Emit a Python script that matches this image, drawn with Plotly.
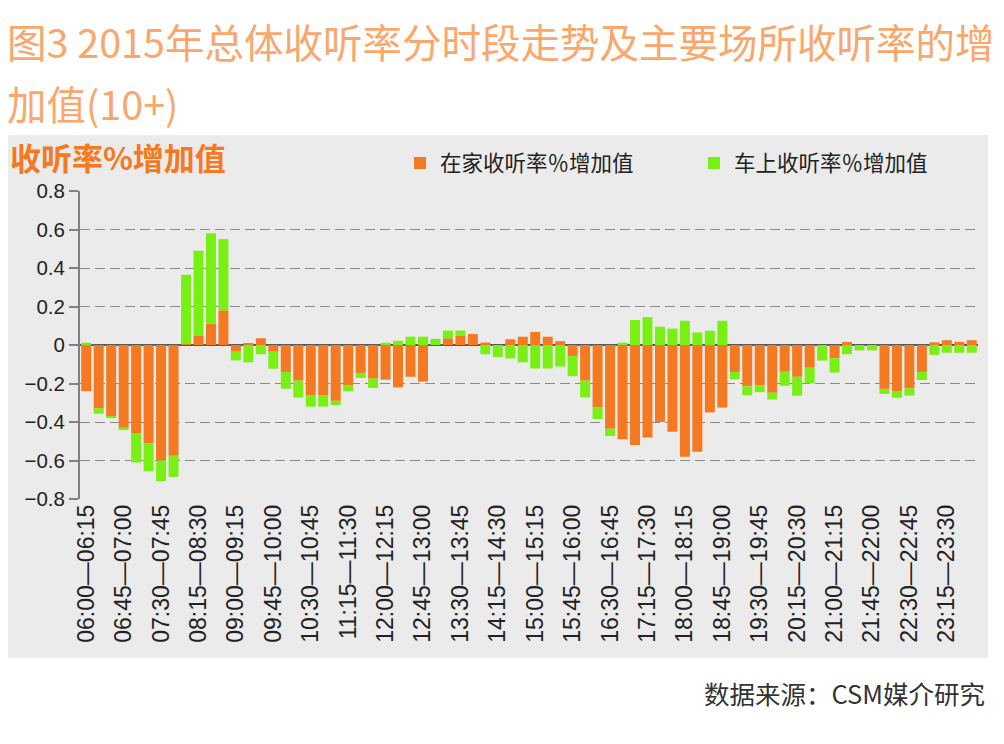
import plotly.graph_objects as go

# 时段: 06:00-24:00, 每15分钟一段
slot_starts = [f"{h:02d}:{m:02d}" for h in range(6, 24) for m in (0, 15, 30, 45)]
slot_ends = slot_starts[1:] + ["24:00"]
slots = [f"{a}—{b}" for a, b in zip(slot_starts, slot_ends)]
tick_slots = slots[::3]

home = [
    -0.24, -0.33, -0.37, -0.43, -0.46, -0.51, -0.60, -0.575, 0.005, 0.05, 0.11, 0.18,
    -0.035, 0.01, 0.035, -0.035, -0.14, -0.185, -0.26, -0.26, -0.29, -0.21, -0.145, -0.175,
    -0.18, -0.22, -0.165, -0.19, 0.0, 0.035, 0.047, 0.057, 0.013, 0.0, 0.03, 0.043,
    0.068, 0.043, 0.02, -0.057, -0.185, -0.325, -0.435, -0.49, -0.52, -0.48, -0.40, -0.45,
    -0.58, -0.555, -0.35, -0.325, -0.14, -0.215, -0.21, -0.248, -0.139, -0.165, -0.118, 0.0,
    -0.069, 0.016, 0.0, 0.0, -0.228, -0.239, -0.225, -0.14, 0.014, 0.025, 0.016, 0.025,
]
car = [
    0.012, -0.027, -0.01, -0.012, -0.15, -0.145, -0.107, -0.11, 0.36, 0.44, 0.47, 0.37,
    -0.045, -0.09, -0.048, -0.088, -0.087, -0.088, -0.06, -0.06, -0.022, -0.03, -0.026, -0.048,
    0.012, 0.022, 0.043, 0.043, 0.032, 0.04, 0.028, 0.0, -0.048, -0.062, -0.07, -0.09,
    -0.122, -0.122, -0.112, -0.105, -0.087, -0.06, -0.038, 0.012, 0.13, 0.145, 0.095, 0.085,
    0.126, 0.065, 0.074, 0.126, -0.038, -0.046, -0.035, -0.035, -0.073, -0.099, -0.081, -0.081,
    -0.074, -0.048, -0.028, -0.028, -0.026, -0.035, -0.038, -0.042, -0.051, -0.04, -0.04, -0.04,
]
y_ticks = [0.8, 0.6, 0.4, 0.2, 0, -0.2, -0.4, -0.6, -0.8]
y_labels = ["0.8", "0.6", "0.4", "0.2", "0", "−0.2", "−0.4", "−0.6", "−0.8"]

# 页面 body 默认有 8px 边距, 图按窗口减去边距来定尺寸
OFF = 8
W, H = 1004 - 2 * OFF, 744 - 2 * OFF
# 绘图区在窗口中的像素位置
L, R, T, B = 80 - OFF, 978 - OFF, 191 - OFF, 499 - OFF


def px(x):
    return (x - OFF - L) / (R - L)


def py(y):
    return (B - (y - OFF)) / (B - T)


ORANGE = "#F47920"
GREEN = "#78F014"
CJK = "Noto Sans CJK SC"

fig = go.Figure()
fig.add_trace(go.Bar(x=slots, y=home, name="在家收听率％增加值", marker_color=ORANGE,
                     marker_line_width=0, legend="legend"))
fig.add_trace(go.Bar(x=slots, y=car, name="车上收听率％增加值", marker_color=GREEN,
                     marker_line_width=0, legend="legend2"))

legend_style = dict(
    orientation="h", yanchor="middle", xanchor="left",
    font=dict(family=CJK, size=21.5, color="#222"),
    bgcolor="rgba(0,0,0,0)",
)

fig.update_layout(
    width=W, height=H,
    margin=dict(l=L, r=W - R, t=T, b=H - B, pad=0),
    barmode="relative",
    bargap=0.2,
    paper_bgcolor="white",
    plot_bgcolor="rgba(0,0,0,0)",
    font=dict(family="Arial, Liberation Sans, " + CJK, color="#222"),
    legend=dict(x=px(400), y=py(163), **legend_style),
    legend2=dict(x=px(694), y=py(163), **legend_style),
    showlegend=True,
)

fig.update_yaxes(
    range=[-0.8, 0.8], tickvals=y_ticks, ticktext=y_labels,
    tickfont=dict(size=20.5, family="Arial, Liberation Sans", color="#222"),
    showline=True, linecolor="#808080", linewidth=2,
    ticks="outside", ticklen=9, tickcolor="#808080", tickwidth=2,
    showgrid=True, gridcolor="#8a8a8a", gridwidth=1, griddash="10px,5px",
    zeroline=True, zerolinecolor="#5a5a5a", zerolinewidth=1.5,
)
fig.update_xaxes(
    type="category", tickvals=tick_slots, ticktext=tick_slots, tickangle=-90,
    tickfont=dict(size=23, family="Arial, Liberation Sans", color="#222"),
    showgrid=False, showline=False, ticks="", range=[-0.5, len(slots) - 0.5],
)

# 灰色底板
fig.add_shape(type="rect", xref="paper", yref="paper",
              x0=px(7), x1=px(988), y0=py(658), y1=py(135),
              fillcolor="#EBEBEB", line=dict(width=0), layer="below")

# 标题
fig.add_annotation(text="图3 2015年总体收听率分时段走势及主要场所收听率的增",
                   xref="paper", yref="paper", x=px(5), y=py(40), xanchor="left", yanchor="middle",
                   showarrow=False, font=dict(family=CJK, size=39.5, color="#F9A76C"))
fig.add_annotation(text="加值(10+)",
                   xref="paper", yref="paper", x=px(5), y=py(102), xanchor="left", yanchor="middle",
                   showarrow=False, font=dict(family=CJK, size=39.5, color="#F9A76C"))
fig.add_annotation(text="<b>收听率%增加值</b>",
                   xref="paper", yref="paper", x=px(8), y=py(157), xanchor="left", yanchor="middle",
                   showarrow=False, font=dict(family=CJK, size=31, color=ORANGE))
fig.add_annotation(text="数据来源：CSM媒介研究",
                   xref="paper", yref="paper", x=px(987), y=py(692), xanchor="right", yanchor="middle",
                   showarrow=False, font=dict(family=CJK, size=25.5, color="#333"))

fig.write_html("out.html")
